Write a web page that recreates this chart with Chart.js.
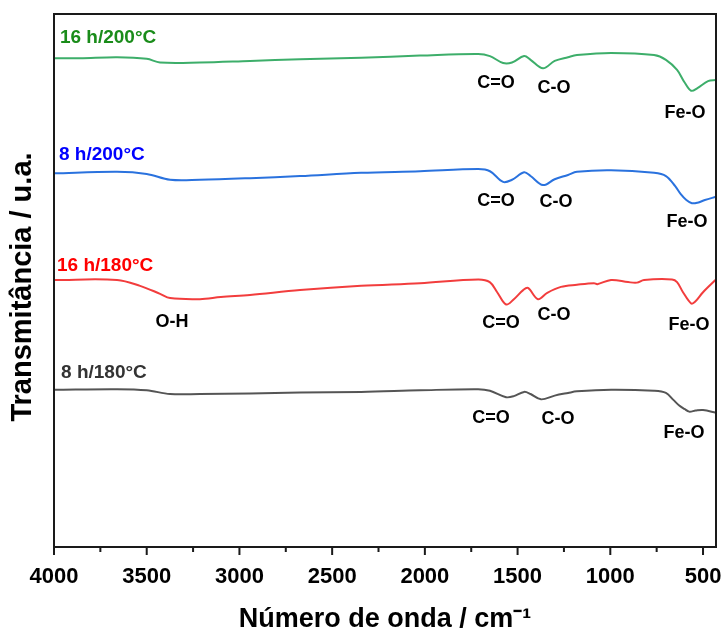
<!DOCTYPE html>
<html lang="pt">
<head>
  <meta charset="UTF-8">
  <title>FTIR - Transmitância</title>
  <script src="https://cdn.jsdelivr.net/npm/chart.js"></script>
  <style>
    html, body { margin: 0; padding: 0; background: #fff; }
    #wrap { width: 722px; height: 632px; }
  </style>
</head>
<body>
<div id="wrap"><canvas id="ftirChart" width="722" height="632"></canvas></div>
<script>
// eixo x (numero de onda, cm-1)
const xTicks = [4000, 3500, 3000, 2500, 2000, 1500, 1000, 500];
const xMinorTicks = [3750, 3250, 2750, 2250, 1750, 1250, 750];

// espectros (x = cm-1, y = u.a. com deslocamento)
const wn16h200 = [4000, 3860, 3660, 3500, 3428, 3213, 2943, 2673, 2344, 2026, 1713, 1649, 1578, 1530, 1465, 1430, 1363, 1300, 1228, 1180, 996, 764, 700, 640, 600, 564, 530, 473, 430];
const t16h200  = [91.7, 91.7, 91.9, 91.6, 90.9, 90.9, 91.2, 91.5, 91.8, 92.2, 92.5, 92.1, 90.8, 90.9, 92.1, 91.4, 89.8, 91.2, 91.9, 92.3, 92.7, 92.3, 91.4, 89.5, 87.2, 85.6, 86.1, 87.4, 87.6];

const wn8h200 = [4000, 3660, 3500, 3374, 3213, 2943, 2673, 2344, 2026, 1713, 1649, 1578, 1530, 1465, 1430, 1363, 1300, 1228, 1180, 996, 764, 700, 650, 620, 590, 560, 530, 490, 430];
const t8h200  = [70.1, 70.4, 70.0, 68.9, 68.9, 69.2, 69.6, 70.2, 70.5, 70.9, 70.5, 68.5, 68.9, 70.3, 69.6, 67.9, 69.0, 69.8, 70.4, 70.7, 70.2, 69.6, 67.7, 66.2, 65.1, 64.5, 64.6, 65.1, 65.7];

const wn16h180 = [4000, 3660, 3536, 3428, 3374, 3213, 3100, 2943, 2673, 2344, 2026, 1713, 1650, 1610, 1562, 1520, 1470, 1444, 1390, 1340, 1266, 1180, 1088, 1070, 996, 904, 856, 818, 667, 640, 608, 564, 543, 500, 430];
const t16h180  = [50.1, 50.1, 49.0, 47.5, 46.7, 46.5, 46.9, 47.3, 48.2, 49.0, 49.5, 50.2, 49.7, 47.8, 45.5, 46.5, 48.2, 48.6, 46.5, 47.7, 48.8, 49.2, 49.5, 49.3, 50.1, 49.7, 49.6, 50.1, 50.2, 49.7, 47.8, 45.7, 46.0, 47.8, 50.2];

const wn8h180 = [4000, 3660, 3500, 3374, 3213, 2943, 2673, 2344, 2026, 1713, 1649, 1562, 1520, 1465, 1430, 1374, 1300, 1228, 1180, 996, 764, 700, 660, 630, 600, 575, 540, 500, 430];
const t8h180  = [29.5, 29.6, 29.4, 28.7, 28.7, 28.8, 29.0, 29.1, 29.4, 29.6, 29.3, 28.1, 28.3, 29.1, 28.7, 27.7, 28.4, 28.9, 29.2, 29.5, 29.3, 28.9, 27.6, 26.6, 25.9, 25.4, 25.6, 25.7, 25.2];

const seriesNames = ['16 h/200°C', '8 h/200°C', '16 h/180°C', '8 h/180°C'];
const lineColors = ['#3dae6a', '#2a72de', '#f23d3d', '#555555'];
const nameColors = ['#1a8c1a', '#0000ff', '#ff0000', '#333333'];
// posicao do nome de cada serie (cm-1, u.a.)
const nameX = [3968, 3973, 3984, 3962];
const nameY = [95.6, 73.5, 52.8, 32.6];

// atribuicoes das bandas
const peakText = ['C=O', 'C-O', 'Fe-O', 'C=O', 'C-O', 'Fe-O', 'O-H', 'C=O', 'C-O', 'Fe-O', 'C=O', 'C-O', 'Fe-O'];
const peakX = [1616, 1304, 597, 1616, 1293, 586, 3364, 1589, 1304, 575, 1643, 1282, 602];
const peakY = [87.0, 86.2, 81.5, 64.9, 64.8, 61.0, 42.3, 42.0, 43.5, 41.6, 24.2, 24.0, 21.4];

const FONT = 'Arial, "Liberation Sans", sans-serif';
Chart.defaults.font.family = FONT;

const toPts = (xs, ys) => xs.map((x, i) => ({ x: x, y: ys[i] }));
const allSeries = [[wn16h200, t16h200], [wn8h200, t8h200], [wn16h180, t16h180], [wn8h180, t8h180]];

const extras = {
  id: 'extras',
  afterDraw(chart) {
    const c = chart.ctx, a = chart.chartArea;
    const sx = chart.scales.x, sy = chart.scales.y;
    c.save();
    // moldura
    c.strokeStyle = '#1a1a1a';
    c.lineWidth = 2;
    c.strokeRect(a.left, a.top, a.right - a.left, a.bottom - a.top);
    // ticks do eixo x
    c.beginPath();
    xTicks.forEach(v => { const p = sx.getPixelForValue(v); c.moveTo(p, a.bottom); c.lineTo(p, a.bottom + 8); });
    xMinorTicks.forEach(v => { const p = sx.getPixelForValue(v); c.moveTo(p, a.bottom); c.lineTo(p, a.bottom + 5); });
    c.stroke();
    // titulo do eixo y
    c.save();
    c.translate(23, 287);
    c.rotate(-Math.PI / 2);
    c.textAlign = 'center';
    c.textBaseline = 'middle';
    c.fillStyle = '#000';
    c.font = 'bold 29px ' + FONT;
    c.fillText('Transmitância / u.a.', 0, 0);
    c.restore();
    // nomes das series
    c.textBaseline = 'middle';
    c.textAlign = 'left';
    c.font = 'bold 19px ' + FONT;
    seriesNames.forEach((n, i) => {
      c.fillStyle = nameColors[i];
      c.fillText(n, sx.getPixelForValue(nameX[i]), sy.getPixelForValue(nameY[i]));
    });
    // bandas
    c.textAlign = 'center';
    c.fillStyle = '#000';
    c.font = 'bold 18px ' + FONT;
    peakText.forEach((t, i) => {
      c.fillText(t, sx.getPixelForValue(peakX[i]), sy.getPixelForValue(peakY[i]));
    });
    c.restore();
  }
};

new Chart(document.getElementById('ftirChart'), {
  type: 'line',
  data: {
    datasets: allSeries.map((s, i) => ({
      label: seriesNames[i],
      data: toPts(s[0], s[1]),
      borderColor: lineColors[i],
      borderWidth: 2,
      pointRadius: 0,
      tension: 0.35,
      fill: false
    }))
  },
  options: {
    responsive: false,
    animation: false,
    layout: { padding: { top: 14, right: 6, left: 2, bottom: 2 } },
    plugins: { legend: { display: false }, tooltip: { enabled: false } },
    scales: {
      x: {
        type: 'linear',
        reverse: true,
        min: 430,
        max: 4000,
        afterBuildTicks: s => { s.ticks = xTicks.map(v => ({ value: v })); },
        afterFit: s => { s.height = 83; s.paddingLeft = 0; s.paddingRight = 0; },
        grid: { display: false },
        border: { display: false },
        ticks: { color: '#000', font: { size: 22, weight: 'bold' }, padding: 9, maxRotation: 0, autoSkip: false, callback: v => String(v) },
        title: { display: true, text: 'Número de onda / cm⁻¹', color: '#000', font: { size: 27, weight: 'bold' }, padding: { top: 4, bottom: -6 } }
      },
      y: {
        min: 0,
        max: 100,
        afterFit: s => { s.width = 52; s.paddingTop = 0; s.paddingBottom = 0; },
        grid: { display: false },
        border: { display: false },
        ticks: { display: false },
        title: { display: false }
      }
    }
  },
  plugins: [extras]
});
</script>
</body>
</html>
